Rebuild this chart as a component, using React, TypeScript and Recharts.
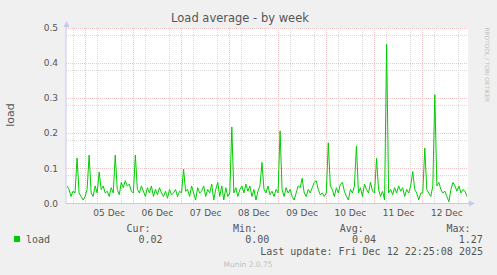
import { LineChart, Line, XAxis, YAxis, CartesianGrid } from "recharts";

// hourly load; hours count from 05 Dec 00:00
const dec04 = [0.05, 0.04, 0.02, 0.035, 0.03, 0.13, 0.03, 0.02, 0.01]; // from 15:00
const dec05 = [
  0.02, 0.04, 0.138, 0.03, 0.02, 0.05, 0.03, 0.09, 0.04, 0.05, 0.03, 0.035,
  0.02, 0.045, 0.03, 0.138, 0.04, 0.025, 0.06, 0.045, 0.065, 0.05, 0.055, 0.035,
];
const dec06 = [
  0.03, 0.138, 0.04, 0.03, 0.05, 0.035, 0.02, 0.045, 0.03, 0.05, 0.02, 0.04,
  0.025, 0.045, 0.03, 0.02, 0.035, 0.015, 0.04, 0.025, 0.03, 0.04, 0.02, 0.035,
];
const dec07 = [
  0.03, 0.098, 0.035, 0.04, 0.02, 0.05, 0.03, 0.01, 0.045, 0.03, 0.035, 0.05,
  0.02, 0.04, 0.03, 0.055, 0.01, 0.04, 0.06, 0.02, 0.05, 0.01, 0.045, 0.02,
];
const dec08 = [
  0.03, 0.218, 0.03, 0.045, 0.02, 0.04, 0.05, 0.03, 0.055, 0.035, 0.05, 0.02,
  0.04, 0.01, 0.035, 0.05, 0.117, 0.04, 0.03, 0.05, 0.025, 0.035, 0.02, 0.04,
];
const dec09 = [
  0.03, 0.207, 0.04, 0.02, 0.045, 0.03, 0.04, 0.02, 0.01, 0.03, 0.05, 0.045,
  0.072, 0.03, 0.02, 0.04, 0.03, 0.045, 0.06, 0.065, 0.04, 0.025, 0.03, 0.02,
];
const dec10 = [
  0.03, 0.173, 0.05, 0.04, 0.02, 0.045, 0.03, 0.055, 0.06, 0.035, 0.02, 0.01,
  0.04, 0.03, 0.05, 0.164, 0.03, 0.045, 0.02, 0.055, 0.04, 0.03, 0.06, 0.035,
];
const dec11 = [
  0.03, 0.129, 0.04, 0.02, 0.035, 0.01, 0.453, 0.03, 0.04, 0.025, 0.045, 0.03,
  0.05, 0.035, 0.045, 0.02, 0.04, 0.03, 0.05, 0.091, 0.04, 0.03, 0.01, 0.03,
];
const dec12 = [
  0.03, 0.158, 0.04, 0.03, 0.02, 0.05, 0.31, 0.05, 0.06, 0.04, 0.03, 0.035,
  0.02, 0.005, 0.04, 0.06, 0.05, 0.035, 0.05, 0.03, 0.04, 0.035, 0.02,
];

const dayLabels = ["05 Dec", "06 Dec", "07 Dec", "08 Dec", "09 Dec", "10 Dec", "11 Dec", "12 Dec"];
const yTicks = [0, 0.1, 0.2, 0.3, 0.4, 0.5];

const legendHeads = ["Cur:", "Min:", "Avg:", "Max:"];
const loadStats = ["0.02", "0.00", "0.04", "1.27"];
const lastUpdate = "Last update: Fri Dec 12 22:25:08 2025";

const rows: { t: number; load: number }[] = [];
dec04.forEach((v, i) => rows.push({ t: -24 + 15 + i, load: v }));
[dec05, dec06, dec07, dec08, dec09, dec10, dec11, dec12].forEach((day, d) =>
  day.forEach((v, i) => rows.push({ t: d * 24 + i, load: v }))
);

const xTicks = dayLabels.map((_, i) => i * 24 + 12);
const dayLines = dayLabels.map((_, i) => i * 24);
const sixHours: number[] = [];
for (let t = -6; t <= 186; t += 6) if (t % 24 !== 0) sixHours.push(t);
const minorY: number[] = [];
for (let i = 1; i < 25; i++) if (i % 5 !== 0) minorY.push(i * 0.02);

const TEXT = "#555555";
const AXIS = "#c8c8f4";
const mono = "'DejaVu Sans Mono', monospace";
const sans = "'DejaVu Sans', sans-serif";

export default function App() {
  return (
    <div
      style={{
        position: "absolute",
        left: 0,
        top: 0,
        width: 497,
        height: 275,
        background: "#f0f0f0",
        overflow: "hidden",
      }}
    >
      <style>{`.recharts-cartesian-grid line { shape-rendering: crispEdges; }`}</style>
      <LineChart
        width={497}
        height={275}
        data={rows}
        margin={{ top: 28, right: 29, bottom: 41.5, left: 26 }}
      >
        <CartesianGrid
          fill="#ffffff"
          stroke="#d8d8d8"
          strokeDasharray="1 1"
          horizontalValues={minorY}
          verticalValues={sixHours}
        />
        <CartesianGrid
          stroke="#f0c4c4"
          strokeDasharray="1 1"
          horizontalValues={yTicks.slice(1)}
          verticalValues={dayLines}
        />
        <XAxis
          dataKey="t"
          type="number"
          domain={[-9.5, 190.5]}
          ticks={xTicks}
          allowDataOverflow
          tickFormatter={(v: number) => dayLabels[(v - 12) / 24]}
          tickLine={false}
          tickSize={0}
          tickMargin={6}
          axisLine={{ stroke: AXIS }}
          tick={{ fill: TEXT, fontSize: 9, fontFamily: sans }}
        />
        <YAxis
          type="number"
          width={40}
          domain={[0, 0.5]}
          ticks={yTicks}
          allowDataOverflow
          tickFormatter={(v: number) => v.toFixed(1)}
          tickLine={false}
          tickSize={0}
          tickMargin={8}
          axisLine={{ stroke: AXIS }}
          tick={{ fill: TEXT, fontSize: 9, fontFamily: sans }}
        />
        <Line
          type="linear"
          dataKey="load"
          stroke="#00cc00"
          strokeWidth={1}
          dot={false}
          isAnimationActive={false}
        />
      </LineChart>
      <svg
        width={497}
        height={275}
        style={{ position: "absolute", left: 0, top: 0, pointerEvents: "none" }}
      >
        {/* axis arrows */}
        <line x1={66.5} y1={22} x2={66.5} y2={28} stroke={AXIS} />
        <polygon points="63.5,27 66.5,21 69.5,27" fill={AXIS} />
        <line x1={468} y1={203.5} x2={474} y2={203.5} stroke={AXIS} />
        <polygon points="469,200.5 475,203.5 469,206.5" fill={AXIS} />

        <text x={240} y={22} textAnchor="middle" fill={TEXT} fontSize={11.5} fontFamily={sans}>
          Load average - by week
        </text>
        <text
          x={14}
          y={115}
          transform="rotate(-90 14 115)"
          textAnchor="middle"
          fill={TEXT}
          fontSize={11}
          fontFamily={sans}
        >
          load
        </text>
        <text
          x={485}
          y={65}
          transform="rotate(90 485 65)"
          textAnchor="middle"
          fill="#c4c4c4"
          fontSize={5.8}
          fontFamily={sans}
        >
          RRDTOOL / TOBI OETIKER
        </text>

        {legendHeads.map((h, i) => (
          <text key={h} x={150.5 + i * 106.7} y={231.5} textAnchor="end" fill={TEXT} fontSize={10} fontFamily={mono}>
            {h}
          </text>
        ))}
        <rect x={14} y={236} width={6} height={6} fill="#00cc00" />
        <text x={26} y={243} fill={TEXT} fontSize={10} fontFamily={mono}>
          load
        </text>
        {loadStats.map((s, i) => (
          <text key={i} x={162.5 + i * 106.8} y={243} textAnchor="end" fill={TEXT} fontSize={10} fontFamily={mono}>
            {s}
          </text>
        ))}
        <text x={483} y={255} textAnchor="end" fill={TEXT} fontSize={10} fontFamily={mono}>
          {lastUpdate}
        </text>
        <text x={248} y={267} textAnchor="middle" fill="#c0c0c0" fontSize={7.5} fontFamily={sans}>
          Munin 2.0.75
        </text>
      </svg>
    </div>
  );
}
